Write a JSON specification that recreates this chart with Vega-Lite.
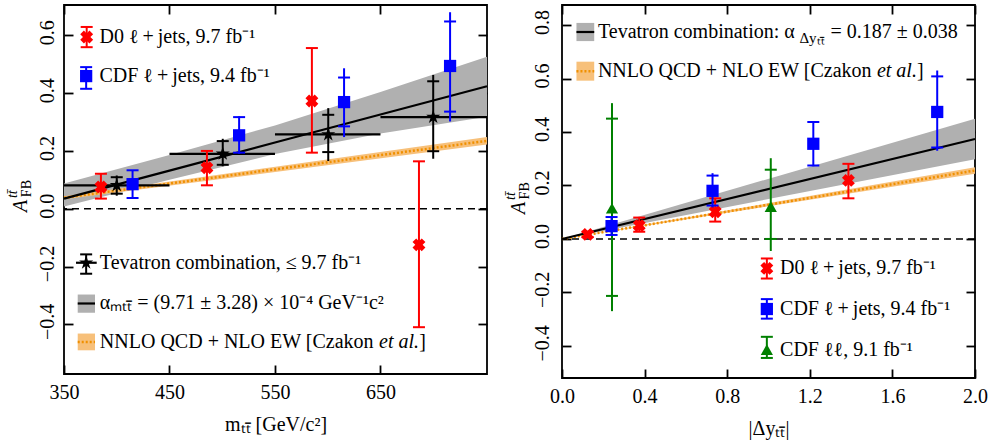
{
  "$schema": "https://vega.github.io/schema/vega-lite/v6.json",
  "padding": {"left": 4, "top": 3, "right": 2, "bottom": 2},
  "spacing": 10,
  "config": {
    "view": {"stroke": "black", "strokeWidth": 1.8},
    "font": "Liberation Serif",
    "axis": {"domain": false, "grid": false, "ticks": true, "tickSize": -9, "tickWidth": 1.8, "tickColor": "black",
      "labelFont": "Liberation Serif", "labelFontSize": 20, "labelColor": "black", "labelFlush": false, "labelOverlap": false,
      "titleFont": "Liberation Serif", "titleFontSize": 20, "titleFontWeight": "normal", "titleColor": "black"},
    "text": {"font": "Liberation Serif", "fontSize": 20, "color": "black"}
  },
  "datasets": {
    "fitL": [
      {"x": 350, "y": 0.035, "lo": 0.008, "hi": 0.087},
      {"x": 450, "y": 0.132, "lo": 0.1, "hi": 0.186},
      {"x": 550, "y": 0.229, "lo": 0.189, "hi": 0.288},
      {"x": 650, "y": 0.326, "lo": 0.26, "hi": 0.404},
      {"x": 751, "y": 0.424, "lo": 0.318, "hi": 0.526}
    ],
    "nnloL": [
      {"x": 350, "y": 0.038, "lo": 0.033, "hi": 0.043},
      {"x": 751, "y": 0.235, "lo": 0.222, "hi": 0.248}
    ],
    "tevL": [
      {"x": 400, "xlo": 350, "xhi": 450, "y": 0.081, "lo": 0.052, "hi": 0.109, "lo2": 0.045, "hi2": 0.115},
      {"x": 500.5, "xlo": 450, "xhi": 550, "y": 0.19, "lo": 0.152, "hi": 0.234, "lo2": 0.147, "hi2": 0.242},
      {"x": 600.5, "xlo": 550, "xhi": 650, "y": 0.257, "lo": 0.196, "hi": 0.325, "lo2": 0.165, "hi2": 0.348},
      {"x": 700, "xlo": 650, "xhi": 751, "y": 0.317, "lo": 0.199, "hi": 0.441, "lo2": 0.173, "hi2": 0.463},
      {"x": 371, "xlo": 361.4, "xhi": 381, "y": -0.187, "lo": -0.225, "hi": -0.158, "lo2": -0.225, "hi2": -0.158}
    ],
    "d0L": [
      {"x": 385, "y": 0.075, "lo": 0.035, "hi": 0.121},
      {"x": 485.5, "y": 0.142, "lo": 0.081, "hi": 0.2},
      {"x": 585, "y": 0.373, "lo": 0.194, "hi": 0.556},
      {"x": 686.5, "y": -0.125, "lo": -0.41, "hi": 0.164},
      {"x": 371.5, "y": 0.594, "lo": 0.559, "hi": 0.629}
    ],
    "cdfL": [
      {"x": 415, "y": 0.085, "lo": 0.037, "hi": 0.133, "lo2": 0.037, "hi2": 0.133},
      {"x": 516, "y": 0.254, "lo": 0.194, "hi": 0.317, "lo2": 0.19, "hi2": 0.32},
      {"x": 615.5, "y": 0.369, "lo": 0.285, "hi": 0.454, "lo2": 0.248, "hi2": 0.486},
      {"x": 716, "y": 0.494, "lo": 0.336, "hi": 0.648, "lo2": 0.302, "hi2": 0.68},
      {"x": 371, "y": 0.459, "lo": 0.415, "hi": 0.49, "lo2": 0.415, "hi2": 0.49}
    ],
    "patchFitL": [{"x": 363, "x2": 379.4, "y": -0.36, "y2": -0.297, "ym": -0.328}],
    "patchNnloL": [{"x": 363, "x2": 379.4, "y": -0.49, "y2": -0.432, "ym": -0.461}],
    "txtL": [
      {"x": 383.6, "y": 0.594, "t": "D0 ℓ\u2009+\u2009jets, 9.7 fb⁻¹"},
      {"x": 383.6, "y": 0.459, "t": "CDF ℓ\u2009+\u2009jets, 9.4 fb⁻¹"},
      {"x": 384, "y": -0.187, "t": "Tevatron combination, ≤ 9.7 fb⁻¹"},
      {"x": 384, "y": -0.328, "t": "αₘₜₜ̄ = (9.71 ± 3.28) × 10⁻⁴ GeV⁻¹c²"},
      {"x": 384, "y": -0.461, "t": "NNLO QCD + NLO EW [Czakon"},
      {"x": 686.8, "y": -0.461, "t": "]"}
    ],
    "itL": [{"x": 648.7, "y": -0.461, "t": "et al."}],
    "ytitleL": [
      {"x": 314.8, "y": -0.011, "t": "A", "part": "main"},
      {"x": 318.6, "y": 0.04, "t": "FB", "part": "sub"},
      {"x": 305.3, "y": 0.037, "t": "tt̄", "part": "sup"}
    ],
    "fitR": [
      {"x": 0, "y": 0, "lo": 0, "hi": 0},
      {"x": 2, "y": 0.374, "lo": 0.298, "hi": 0.45}
    ],
    "nnloR": [
      {"x": 0, "y": 0, "lo": 0, "hi": 0},
      {"x": 2, "y": 0.256, "lo": 0.244, "hi": 0.268}
    ],
    "d0R": [
      {"x": 0.124, "y": 0.017, "lo": 0.007, "hi": 0.027},
      {"x": 0.374, "y": 0.05, "lo": 0.027, "hi": 0.08},
      {"x": 0.742, "y": 0.102, "lo": 0.065, "hi": 0.152},
      {"x": 1.387, "y": 0.219, "lo": 0.152, "hi": 0.281},
      {"x": 0.992, "y": -0.11, "lo": -0.148, "hi": -0.073}
    ],
    "cdfR": [
      {"x": 0.24, "y": 0.048, "lo": 0.015, "hi": 0.082, "lo2": 0.012, "hi2": 0.086},
      {"x": 0.729, "y": 0.18, "lo": 0.125, "hi": 0.237, "lo2": 0.118, "hi2": 0.246},
      {"x": 1.217, "y": 0.356, "lo": 0.275, "hi": 0.437, "lo2": 0.272, "hi2": 0.44},
      {"x": 1.817, "y": 0.475, "lo": 0.342, "hi": 0.608, "lo2": 0.33, "hi2": 0.63},
      {"x": 0.992, "y": -0.262, "lo": -0.298, "hi": -0.225, "lo2": -0.298, "hi2": -0.225}
    ],
    "llR": [
      {"x": 0.242, "y": 0.115, "lo": -0.213, "hi": 0.45, "lo2": -0.27, "hi2": 0.508},
      {"x": 1.011, "y": 0.121, "lo": 0.0, "hi": 0.259, "lo2": -0.045, "hi2": 0.302},
      {"x": 0.992, "y": -0.414, "lo": -0.445, "hi": -0.366, "lo2": -0.445, "hi2": -0.366}
    ],
    "patchFitR": [{"x": 0.07, "x2": 0.156, "y": 0.74, "y2": 0.808, "ym": 0.774}],
    "patchNnloR": [{"x": 0.07, "x2": 0.156, "y": 0.592, "y2": 0.663, "ym": 0.627}],
    "txtR": [
      {"x": 0.174, "y": 0.774, "t": "Tevatron combination: α"},
      {"x": 1.3, "y": 0.774, "t": "= 0.187 ± 0.038"},
      {"x": 0.174, "y": 0.627, "t": "NNLO QCD + NLO EW [Czakon"},
      {"x": 1.719, "y": 0.627, "t": "]"},
      {"x": 1.056, "y": -0.11, "t": "D0 ℓ\u2009+\u2009jets, 9.7 fb⁻¹"},
      {"x": 1.056, "y": -0.262, "t": "CDF ℓ\u2009+\u2009jets, 9.4 fb⁻¹"},
      {"x": 1.056, "y": -0.414, "t": "CDF ℓℓ, 9.1 fb⁻¹"}
    ],
    "itR": [{"x": 1.525, "y": 0.627, "t": "et al."}],
    "subR": [{"x": 1.15, "y": 0.752, "t": "Δyₜₜ̄"}],
    "ytitleR": [
      {"x": -0.179, "y": 0.093, "t": "A", "part": "main"},
      {"x": -0.16, "y": 0.148, "t": "FB", "part": "sub"},
      {"x": -0.228, "y": 0.146, "t": "tt̄", "part": "sup"}
    ]
  },
  "hconcat": [
    {
      "width": 423,
      "height": 369,
      "resolve": {"axis": {"x": "independent", "y": "independent"}},
      "layer": [
        {
          "layer": [
            {"data": {"name": "fitL"}, "mark": {"type": "area", "color": "#b0b0b0", "opacity": 1},
              "encoding": {
                "x": {"field": "x", "type": "quantitative", "scale": {"domain": [350, 751], "nice": false, "zero": false},
                  "axis": {"values": [350, 450, 550, 650], "format": "d", "labelPadding": 17, "title": "mₜₜ̄ [GeV/c²]", "titlePadding": 12}},
                "y": {"field": "lo", "type": "quantitative", "scale": {"domain": [-0.572, 0.705], "nice": false, "zero": false},
                  "axis": {"values": [-0.4, -0.2, 0, 0.2, 0.4, 0.6], "format": ".1f", "labelAngle": 270, "labelAlign": "center", "labelBaseline": "alphabetic", "labelPadding": 20, "labelOffset": -3, "title": null}},
                "y2": {"field": "hi"}}},
            {"data": {"name": "nnloL"}, "mark": {"type": "area", "color": "#f7c07a", "opacity": 1},
              "encoding": {"x": {"field": "x", "type": "quantitative", "scale": {"domain": [350, 751], "nice": false, "zero": false}},
                "y": {"field": "lo", "type": "quantitative", "scale": {"domain": [-0.572, 0.705], "nice": false, "zero": false}},
                "y2": {"field": "hi"}}},
            {"data": {"name": "nnloL"}, "mark": {"type": "line", "color": "#f09000", "strokeWidth": 2.5, "strokeDash": [2, 2]},
              "encoding": {"x": {"field": "x", "type": "quantitative"}, "y": {"field": "y", "type": "quantitative"}}},
            {"data": {"name": "fitL"}, "mark": {"type": "line", "color": "black", "strokeWidth": 2.2},
              "encoding": {"x": {"field": "x", "type": "quantitative"}, "y": {"field": "y", "type": "quantitative"}}},
            {"data": {"values": [{}]}, "mark": {"type": "rule", "color": "black", "strokeWidth": 1.5, "strokeDash": [7, 5]},
              "encoding": {"y": {"datum": 0, "type": "quantitative"}}},
            {"data": {"name": "tevL"}, "mark": {"type": "rule", "color": "black", "strokeWidth": 2.2},
              "encoding": {"x": {"field": "xlo", "type": "quantitative"}, "x2": {"field": "xhi"}, "y": {"field": "y", "type": "quantitative"}}},
            {"data": {"name": "tevL"}, "mark": {"type": "rule", "color": "black", "strokeWidth": 2},
              "encoding": {"x": {"field": "x", "type": "quantitative"}, "y": {"field": "lo2", "type": "quantitative"}, "y2": {"field": "hi2"}}},
            {"data": {"name": "tevL"}, "transform": [{"fold": ["lo", "hi"], "as": ["k", "v"]}],
              "mark": {"type": "tick", "orient": "horizontal", "size": 12, "thickness": 2, "color": "black", "opacity": 1},
              "encoding": {"x": {"field": "x", "type": "quantitative"}, "y": {"field": "v", "type": "quantitative"}}},
            {"data": {"name": "tevL"},
              "mark": {"type": "point", "shape": "M0,-1L0.2245,-0.309L0.9511,-0.309L0.3633,0.118L0.5878,0.809L0,0.382L-0.5878,0.809L-0.3633,0.118L-0.9511,-0.309L-0.2245,-0.309Z", "filled": true, "size": 220, "color": "black", "opacity": 1, "strokeWidth": 0},
              "encoding": {"x": {"field": "x", "type": "quantitative"}, "y": {"field": "y", "type": "quantitative"}}},
            {"data": {"name": "d0L"}, "mark": {"type": "rule", "color": "#ff0000", "strokeWidth": 2},
              "encoding": {"x": {"field": "x", "type": "quantitative"}, "y": {"field": "lo", "type": "quantitative"}, "y2": {"field": "hi"}}},
            {"data": {"name": "d0L"}, "transform": [{"fold": ["lo", "hi"], "as": ["k", "v"]}],
              "mark": {"type": "tick", "orient": "horizontal", "size": 12, "thickness": 2, "color": "#ff0000", "opacity": 1},
              "encoding": {"x": {"field": "x", "type": "quantitative"}, "y": {"field": "v", "type": "quantitative"}}},
            {"data": {"name": "d0L"}, "mark": {"type": "point", "shape": "cross", "angle": 45, "filled": true, "size": 170, "color": "#ff0000", "opacity": 1, "strokeWidth": 0},
              "encoding": {"x": {"field": "x", "type": "quantitative"}, "y": {"field": "y", "type": "quantitative"}}},
            {"data": {"name": "cdfL"}, "mark": {"type": "rule", "color": "#0000ff", "strokeWidth": 2},
              "encoding": {"x": {"field": "x", "type": "quantitative"}, "y": {"field": "lo2", "type": "quantitative"}, "y2": {"field": "hi2"}}},
            {"data": {"name": "cdfL"}, "transform": [{"fold": ["lo", "hi"], "as": ["k", "v"]}],
              "mark": {"type": "tick", "orient": "horizontal", "size": 12, "thickness": 2, "color": "#0000ff", "opacity": 1},
              "encoding": {"x": {"field": "x", "type": "quantitative"}, "y": {"field": "v", "type": "quantitative"}}},
            {"data": {"name": "cdfL"}, "mark": {"type": "point", "shape": "square", "filled": true, "size": 150, "color": "#0000ff", "opacity": 1, "strokeWidth": 0},
              "encoding": {"x": {"field": "x", "type": "quantitative"}, "y": {"field": "y", "type": "quantitative"}}},
            {"data": {"name": "patchFitL"}, "mark": {"type": "rect", "color": "#b0b0b0"},
              "encoding": {"x": {"field": "x", "type": "quantitative"}, "x2": {"field": "x2"}, "y": {"field": "y", "type": "quantitative"}, "y2": {"field": "y2"}}},
            {"data": {"name": "patchFitL"}, "mark": {"type": "rule", "color": "black", "strokeWidth": 2.2},
              "encoding": {"x": {"field": "x", "type": "quantitative"}, "x2": {"field": "x2"}, "y": {"field": "ym", "type": "quantitative"}}},
            {"data": {"name": "patchNnloL"}, "mark": {"type": "rect", "color": "#f7c07a"},
              "encoding": {"x": {"field": "x", "type": "quantitative"}, "x2": {"field": "x2"}, "y": {"field": "y", "type": "quantitative"}, "y2": {"field": "y2"}}},
            {"data": {"name": "patchNnloL"}, "mark": {"type": "rule", "color": "#f09000", "strokeWidth": 2.5, "strokeDash": [2, 2]},
              "encoding": {"x": {"field": "x", "type": "quantitative"}, "x2": {"field": "x2"}, "y": {"field": "ym", "type": "quantitative"}}},
            {"data": {"name": "txtL"}, "mark": {"type": "text", "align": "left", "baseline": "middle", "fontSize": 20},
              "encoding": {"x": {"field": "x", "type": "quantitative"}, "y": {"field": "y", "type": "quantitative"}, "text": {"field": "t"}}},
            {"data": {"name": "itL"}, "mark": {"type": "text", "align": "left", "baseline": "middle", "fontSize": 20, "fontStyle": "italic"},
              "encoding": {"x": {"field": "x", "type": "quantitative"}, "y": {"field": "y", "type": "quantitative"}, "text": {"field": "t"}}},
            {"data": {"name": "ytitleL"}, "transform": [{"filter": "datum.part == 'main'"}],
              "mark": {"type": "text", "angle": 270, "align": "left", "baseline": "alphabetic", "fontSize": 20, "fontStyle": "italic"},
              "encoding": {"x": {"field": "x", "type": "quantitative"}, "y": {"field": "y", "type": "quantitative"}, "text": {"field": "t"}}},
            {"data": {"name": "ytitleL"}, "transform": [{"filter": "datum.part == 'sub'"}],
              "mark": {"type": "text", "angle": 270, "align": "left", "baseline": "alphabetic", "fontSize": 14},
              "encoding": {"x": {"field": "x", "type": "quantitative"}, "y": {"field": "y", "type": "quantitative"}, "text": {"field": "t"}}},
            {"data": {"name": "ytitleL"}, "transform": [{"filter": "datum.part == 'sup'"}],
              "mark": {"type": "text", "angle": 270, "align": "left", "baseline": "alphabetic", "fontSize": 14, "fontStyle": "italic"},
              "encoding": {"x": {"field": "x", "type": "quantitative"}, "y": {"field": "y", "type": "quantitative"}, "text": {"field": "t"}}}
          ]
        },
        {"data": {"name": "fitL"}, "mark": {"type": "point", "opacity": 0},
          "encoding": {
            "x": {"field": "x", "type": "quantitative", "scale": {"domain": [350, 751], "nice": false, "zero": false},
              "axis": {"orient": "top", "values": [350, 450, 550, 650], "labels": false, "title": null}},
            "y": {"field": "y", "type": "quantitative", "scale": {"domain": [-0.572, 0.705], "nice": false, "zero": false},
              "axis": {"orient": "right", "values": [-0.4, -0.2, 0, 0.2, 0.4, 0.6], "labels": false, "title": null}}}}
      ]
    },
    {
      "width": 413,
      "height": 373,
      "resolve": {"axis": {"x": "independent", "y": "independent"}},
      "layer": [
        {
          "layer": [
            {"data": {"name": "fitR"}, "mark": {"type": "area", "color": "#b0b0b0", "opacity": 1},
              "encoding": {
                "x": {"field": "x", "type": "quantitative", "scale": {"domain": [0, 2], "nice": false, "zero": false},
                  "axis": {"values": [0, 0.4, 0.8, 1.2, 1.6, 2.0], "format": ".1f", "labelPadding": 17, "title": "|Δyₜₜ̄|", "titlePadding": 12}},
                "y": {"field": "lo", "type": "quantitative", "scale": {"domain": [-0.52, 0.875], "nice": false, "zero": false},
                  "axis": {"values": [-0.4, -0.2, 0, 0.2, 0.4, 0.6, 0.8], "format": ".1f", "labelAngle": 270, "labelAlign": "center", "labelBaseline": "alphabetic", "labelPadding": 23, "labelOffset": -3, "title": null}},
                "y2": {"field": "hi"}}},
            {"data": {"name": "nnloR"}, "mark": {"type": "area", "color": "#f7c07a", "opacity": 1},
              "encoding": {"x": {"field": "x", "type": "quantitative", "scale": {"domain": [0, 2], "nice": false, "zero": false}},
                "y": {"field": "lo", "type": "quantitative", "scale": {"domain": [-0.52, 0.875], "nice": false, "zero": false}},
                "y2": {"field": "hi"}}},
            {"data": {"name": "nnloR"}, "mark": {"type": "line", "color": "#f09000", "strokeWidth": 2.5, "strokeDash": [2, 2]},
              "encoding": {"x": {"field": "x", "type": "quantitative"}, "y": {"field": "y", "type": "quantitative"}}},
            {"data": {"name": "fitR"}, "mark": {"type": "line", "color": "black", "strokeWidth": 2.2},
              "encoding": {"x": {"field": "x", "type": "quantitative"}, "y": {"field": "y", "type": "quantitative"}}},
            {"data": {"values": [{}]}, "mark": {"type": "rule", "color": "black", "strokeWidth": 1.5, "strokeDash": [7, 5]},
              "encoding": {"y": {"datum": 0, "type": "quantitative"}}},
            {"data": {"name": "d0R"}, "mark": {"type": "rule", "color": "#ff0000", "strokeWidth": 2},
              "encoding": {"x": {"field": "x", "type": "quantitative"}, "y": {"field": "lo", "type": "quantitative"}, "y2": {"field": "hi"}}},
            {"data": {"name": "d0R"}, "transform": [{"fold": ["lo", "hi"], "as": ["k", "v"]}],
              "mark": {"type": "tick", "orient": "horizontal", "size": 12, "thickness": 2, "color": "#ff0000", "opacity": 1},
              "encoding": {"x": {"field": "x", "type": "quantitative"}, "y": {"field": "v", "type": "quantitative"}}},
            {"data": {"name": "d0R"}, "mark": {"type": "point", "shape": "cross", "angle": 45, "filled": true, "size": 170, "color": "#ff0000", "opacity": 1, "strokeWidth": 0},
              "encoding": {"x": {"field": "x", "type": "quantitative"}, "y": {"field": "y", "type": "quantitative"}}},
            {"data": {"name": "llR"}, "mark": {"type": "rule", "color": "#008000", "strokeWidth": 2},
              "encoding": {"x": {"field": "x", "type": "quantitative"}, "y": {"field": "lo2", "type": "quantitative"}, "y2": {"field": "hi2"}}},
            {"data": {"name": "llR"}, "transform": [{"fold": ["lo", "hi"], "as": ["k", "v"]}],
              "mark": {"type": "tick", "orient": "horizontal", "size": 12, "thickness": 2, "color": "#008000", "opacity": 1},
              "encoding": {"x": {"field": "x", "type": "quantitative"}, "y": {"field": "v", "type": "quantitative"}}},
            {"data": {"name": "llR"}, "mark": {"type": "point", "shape": "triangle-up", "filled": true, "size": 150, "color": "#008000", "opacity": 1, "strokeWidth": 0},
              "encoding": {"x": {"field": "x", "type": "quantitative"}, "y": {"field": "y", "type": "quantitative"}}},
            {"data": {"name": "cdfR"}, "mark": {"type": "rule", "color": "#0000ff", "strokeWidth": 2},
              "encoding": {"x": {"field": "x", "type": "quantitative"}, "y": {"field": "lo2", "type": "quantitative"}, "y2": {"field": "hi2"}}},
            {"data": {"name": "cdfR"}, "transform": [{"fold": ["lo", "hi"], "as": ["k", "v"]}],
              "mark": {"type": "tick", "orient": "horizontal", "size": 12, "thickness": 2, "color": "#0000ff", "opacity": 1},
              "encoding": {"x": {"field": "x", "type": "quantitative"}, "y": {"field": "v", "type": "quantitative"}}},
            {"data": {"name": "cdfR"}, "mark": {"type": "point", "shape": "square", "filled": true, "size": 150, "color": "#0000ff", "opacity": 1, "strokeWidth": 0},
              "encoding": {"x": {"field": "x", "type": "quantitative"}, "y": {"field": "y", "type": "quantitative"}}},
            {"data": {"name": "patchFitR"}, "mark": {"type": "rect", "color": "#b0b0b0"},
              "encoding": {"x": {"field": "x", "type": "quantitative"}, "x2": {"field": "x2"}, "y": {"field": "y", "type": "quantitative"}, "y2": {"field": "y2"}}},
            {"data": {"name": "patchFitR"}, "mark": {"type": "rule", "color": "black", "strokeWidth": 2.2},
              "encoding": {"x": {"field": "x", "type": "quantitative"}, "x2": {"field": "x2"}, "y": {"field": "ym", "type": "quantitative"}}},
            {"data": {"name": "patchNnloR"}, "mark": {"type": "rect", "color": "#f7c07a"},
              "encoding": {"x": {"field": "x", "type": "quantitative"}, "x2": {"field": "x2"}, "y": {"field": "y", "type": "quantitative"}, "y2": {"field": "y2"}}},
            {"data": {"name": "patchNnloR"}, "mark": {"type": "rule", "color": "#f09000", "strokeWidth": 2.5, "strokeDash": [2, 2]},
              "encoding": {"x": {"field": "x", "type": "quantitative"}, "x2": {"field": "x2"}, "y": {"field": "ym", "type": "quantitative"}}},
            {"data": {"name": "txtR"}, "mark": {"type": "text", "align": "left", "baseline": "middle", "fontSize": 20},
              "encoding": {"x": {"field": "x", "type": "quantitative"}, "y": {"field": "y", "type": "quantitative"}, "text": {"field": "t"}}},
            {"data": {"name": "itR"}, "mark": {"type": "text", "align": "left", "baseline": "middle", "fontSize": 20, "fontStyle": "italic"},
              "encoding": {"x": {"field": "x", "type": "quantitative"}, "y": {"field": "y", "type": "quantitative"}, "text": {"field": "t"}}},
            {"data": {"name": "subR"}, "mark": {"type": "text", "align": "left", "baseline": "middle", "fontSize": 15},
              "encoding": {"x": {"field": "x", "type": "quantitative"}, "y": {"field": "y", "type": "quantitative"}, "text": {"field": "t"}}},
            {"data": {"name": "ytitleR"}, "transform": [{"filter": "datum.part == 'main'"}],
              "mark": {"type": "text", "angle": 270, "align": "left", "baseline": "alphabetic", "fontSize": 20, "fontStyle": "italic"},
              "encoding": {"x": {"field": "x", "type": "quantitative"}, "y": {"field": "y", "type": "quantitative"}, "text": {"field": "t"}}},
            {"data": {"name": "ytitleR"}, "transform": [{"filter": "datum.part == 'sub'"}],
              "mark": {"type": "text", "angle": 270, "align": "left", "baseline": "alphabetic", "fontSize": 14},
              "encoding": {"x": {"field": "x", "type": "quantitative"}, "y": {"field": "y", "type": "quantitative"}, "text": {"field": "t"}}},
            {"data": {"name": "ytitleR"}, "transform": [{"filter": "datum.part == 'sup'"}],
              "mark": {"type": "text", "angle": 270, "align": "left", "baseline": "alphabetic", "fontSize": 14, "fontStyle": "italic"},
              "encoding": {"x": {"field": "x", "type": "quantitative"}, "y": {"field": "y", "type": "quantitative"}, "text": {"field": "t"}}}
          ]
        },
        {"data": {"name": "fitR"}, "mark": {"type": "point", "opacity": 0},
          "encoding": {
            "x": {"field": "x", "type": "quantitative", "scale": {"domain": [0, 2], "nice": false, "zero": false},
              "axis": {"orient": "top", "values": [0, 0.4, 0.8, 1.2, 1.6, 2.0], "labels": false, "title": null}},
            "y": {"field": "y", "type": "quantitative", "scale": {"domain": [-0.52, 0.875], "nice": false, "zero": false},
              "axis": {"orient": "right", "values": [-0.4, -0.2, 0, 0.2, 0.4, 0.6, 0.8], "labels": false, "title": null}}}}
      ]
    }
  ]
}
